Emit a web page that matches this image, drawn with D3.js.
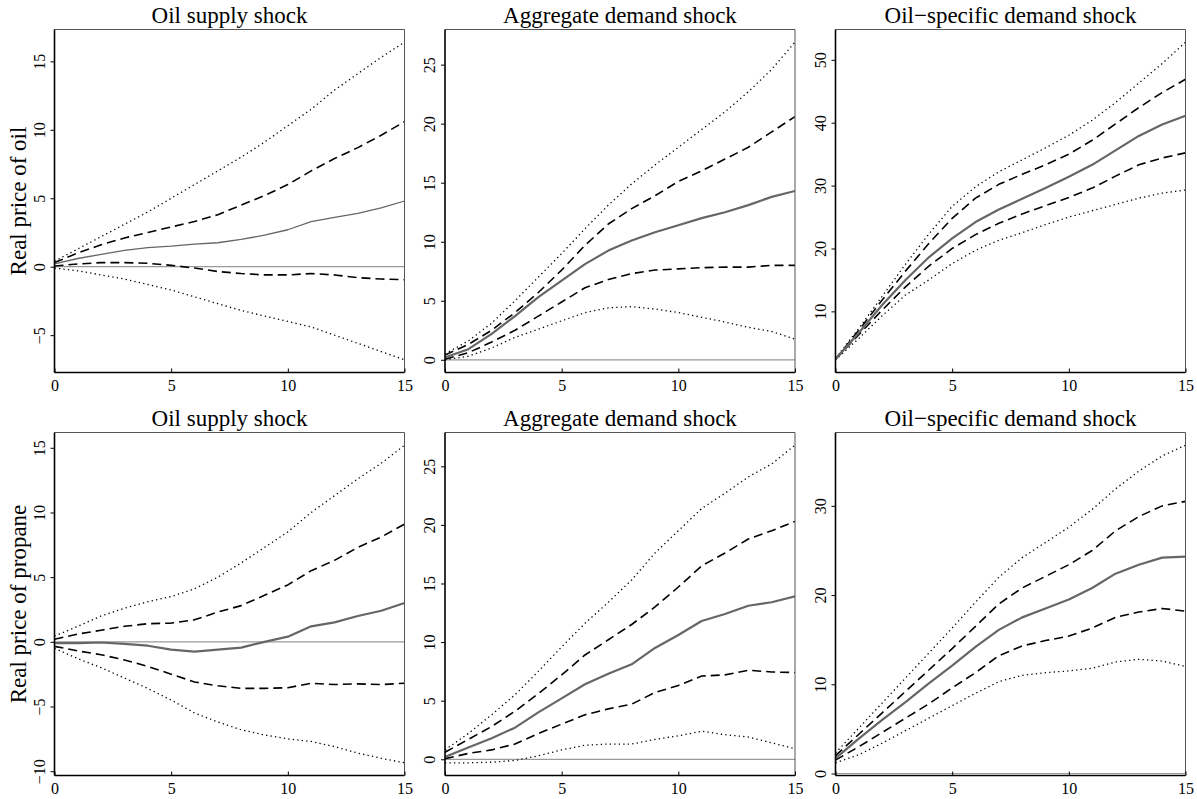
<!DOCTYPE html>
<html>
<head>
<meta charset="utf-8">
<script src="https://cdn.jsdelivr.net/npm/d3@7"></script>
<style>
  html, body { margin: 0; padding: 0; background: #fff; }
  svg { display: block; }
  text { font-family: "Liberation Serif", "Times New Roman", Times, serif; fill: #000; }
</style>
</head>
<body>
<svg id="chart" width="1197" height="799"></svg>
<script>
// Impulse response horizons (months after the shock)
const horizons = [0, 1, 2, 3, 4, 5, 6, 7, 8, 9, 10, 11, 12, 13, 14, 15];
const xTicks = [0, 5, 10, 15];

const shockTitles = ["Oil supply shock", "Aggregate demand shock", "Oil\u2212specific demand shock"];
const variableLabels = ["Real price of oil", "Real price of propane"];

// Real price of oil — oil supply shock
const oilSupply_upperDot  = [0.4, 1.3, 2.2, 3.1, 4.0, 5.0, 6.0, 7.0, 8.0, 9.1, 10.3, 11.5, 12.9, 14.1, 15.3, 16.4];
const oilSupply_upperDash = [0.3, 1.0, 1.6, 2.1, 2.5, 2.9, 3.3, 3.8, 4.5, 5.2, 6.0, 7.0, 7.9, 8.7, 9.6, 10.6];
const oilSupply_median    = [0.2, 0.6, 0.9, 1.2, 1.4, 1.5, 1.65, 1.75, 2.0, 2.3, 2.7, 3.3, 3.6, 3.9, 4.3, 4.8];
const oilSupply_lowerDash = [0.05, 0.2, 0.3, 0.3, 0.25, 0.1, -0.1, -0.35, -0.5, -0.6, -0.6, -0.5, -0.6, -0.8, -0.9, -0.95];
const oilSupply_lowerDot  = [-0.1, -0.3, -0.6, -0.9, -1.3, -1.7, -2.2, -2.7, -3.2, -3.6, -4.0, -4.4, -5.0, -5.6, -6.2, -6.8];

// Real price of oil — aggregate demand shock
const oilAggregate_upperDot  = [0.5, 1.6, 3.1, 5.0, 7.0, 9.0, 11.1, 13.1, 14.9, 16.5, 18.0, 19.5, 21.0, 22.7, 24.6, 26.9];
const oilAggregate_upperDash = [0.4, 1.3, 2.5, 4.0, 5.7, 7.6, 9.7, 11.5, 12.8, 13.9, 15.1, 16.0, 17.0, 18.0, 19.3, 20.6];
const oilAggregate_median    = [0.2, 0.9, 2.2, 3.7, 5.3, 6.7, 8.1, 9.25, 10.1, 10.8, 11.4, 12.0, 12.5, 13.1, 13.8, 14.3];
const oilAggregate_lowerDash = [0.05, 0.6, 1.5, 2.5, 3.7, 4.9, 6.1, 6.8, 7.3, 7.6, 7.7, 7.8, 7.85, 7.85, 8.0, 8.0];
const oilAggregate_lowerDot  = [0.0, 0.3, 1.0, 1.9, 2.6, 3.3, 4.0, 4.4, 4.5, 4.3, 4.0, 3.6, 3.2, 2.75, 2.4, 1.75];

// Real price of oil — oil-specific demand shock
const oilSpecific_upperDot  = [2.5, 7.3, 12.4, 17.5, 22.3, 26.7, 29.8, 32.2, 34.1, 36.0, 38.0, 40.4, 43.2, 46.3, 49.4, 52.8];
const oilSpecific_upperDash = [2.4, 7.0, 11.8, 16.4, 20.8, 24.8, 28.0, 30.2, 31.8, 33.3, 35.0, 37.2, 39.8, 42.4, 44.8, 46.9];
const oilSpecific_median    = [2.4, 6.6, 11.0, 15.0, 18.6, 21.6, 24.2, 26.2, 27.9, 29.6, 31.4, 33.3, 35.6, 37.9, 39.7, 41.1];
const oilSpecific_lowerDash = [2.4, 6.3, 10.2, 13.9, 17.2, 20.0, 22.2, 24.0, 25.5, 26.8, 28.1, 29.6, 31.5, 33.3, 34.4, 35.2];
const oilSpecific_lowerDot  = [2.3, 5.7, 9.3, 12.6, 15.0, 17.6, 19.7, 21.3, 22.5, 23.8, 25.0, 26.0, 27.0, 28.0, 28.8, 29.3];

// Real price of propane — oil supply shock
const propSupply_upperDot  = [0.45, 1.2, 2.0, 2.6, 3.1, 3.5, 4.1, 5.0, 6.1, 7.3, 8.5, 10.0, 11.3, 12.6, 13.8, 15.2];
const propSupply_upperDash = [0.2, 0.6, 0.9, 1.2, 1.4, 1.45, 1.7, 2.3, 2.8, 3.6, 4.4, 5.5, 6.3, 7.3, 8.1, 9.1];
const propSupply_median    = [-0.1, -0.1, -0.05, -0.15, -0.3, -0.6, -0.75, -0.6, -0.45, 0.0, 0.4, 1.2, 1.5, 2.0, 2.4, 3.0];
const propSupply_lowerDash = [-0.35, -0.7, -1.0, -1.4, -1.9, -2.5, -3.1, -3.4, -3.6, -3.6, -3.55, -3.2, -3.3, -3.25, -3.3, -3.2];
const propSupply_lowerDot  = [-0.5, -1.3, -2.0, -2.8, -3.6, -4.5, -5.5, -6.2, -6.8, -7.2, -7.5, -7.7, -8.1, -8.6, -9.0, -9.35];

// Real price of propane — aggregate demand shock
const propAggregate_upperDot  = [0.8, 2.2, 3.8, 5.5, 7.5, 9.6, 11.6, 13.4, 15.3, 17.6, 19.5, 21.4, 22.7, 24.1, 25.2, 26.8];
const propAggregate_upperDash = [0.6, 1.7, 2.8, 4.1, 5.6, 7.2, 8.9, 10.2, 11.5, 13.0, 14.7, 16.5, 17.6, 18.8, 19.5, 20.3];
const propAggregate_median    = [0.2, 1.0, 1.8, 2.7, 4.0, 5.2, 6.4, 7.3, 8.1, 9.5, 10.6, 11.8, 12.4, 13.1, 13.4, 13.9];
const propAggregate_lowerDash = [0.05, 0.5, 0.8, 1.3, 2.2, 3.0, 3.8, 4.3, 4.7, 5.7, 6.3, 7.1, 7.2, 7.6, 7.45, 7.4];
const propAggregate_lowerDot  = [-0.3, -0.3, -0.25, -0.1, 0.3, 0.8, 1.2, 1.3, 1.3, 1.7, 2.0, 2.4, 2.1, 1.9, 1.4, 0.9];

// Real price of propane — oil-specific demand shock
const propSpecific_upperDot  = [2.3, 5.1, 7.9, 10.7, 13.5, 16.3, 19.2, 22.0, 24.2, 25.9, 27.6, 29.6, 31.9, 33.9, 35.6, 36.8];
const propSpecific_upperDash = [2.0, 4.4, 6.8, 9.2, 11.6, 14.0, 16.5, 19.0, 20.8, 22.1, 23.4, 25.0, 27.2, 28.8, 30.0, 30.5];
const propSpecific_median    = [1.7, 3.9, 6.0, 8.0, 10.1, 12.1, 14.2, 16.1, 17.5, 18.5, 19.5, 20.8, 22.4, 23.4, 24.2, 24.3];
const propSpecific_lowerDash = [1.5, 3.0, 4.6, 6.2, 7.8, 9.6, 11.3, 13.2, 14.3, 14.9, 15.4, 16.3, 17.5, 18.1, 18.5, 18.2];
const propSpecific_lowerDot  = [1.2, 2.1, 3.4, 4.8, 6.2, 7.6, 9.0, 10.3, 11.0, 11.3, 11.5, 11.8, 12.5, 12.8, 12.6, 12.0];

// y-axis tick values, one list per panel (row-major)
const yTicksOilSupply      = [-5, 0, 5, 10, 15];
const yTicksOilAggregate   = [0, 5, 10, 15, 20, 25];
const yTicksOilSpecific    = [10, 20, 30, 40, 50];
const yTicksPropSupply     = [-10, -5, 0, 5, 10, 15];
const yTicksPropAggregate  = [0, 5, 10, 15, 20, 25];
const yTicksPropSpecific   = [0, 10, 20, 30];

const panels = [
  { row: 0, col: 0, ticks: yTicksOilSupply, medianWidth: 1.3,
    bands: [oilSupply_lowerDot, oilSupply_lowerDash, oilSupply_median, oilSupply_upperDash, oilSupply_upperDot] },
  { row: 0, col: 1, ticks: yTicksOilAggregate, medianWidth: 2.2,
    bands: [oilAggregate_lowerDot, oilAggregate_lowerDash, oilAggregate_median, oilAggregate_upperDash, oilAggregate_upperDot] },
  { row: 0, col: 2, ticks: yTicksOilSpecific, medianWidth: 2.2,
    bands: [oilSpecific_lowerDot, oilSpecific_lowerDash, oilSpecific_median, oilSpecific_upperDash, oilSpecific_upperDot] },
  { row: 1, col: 0, ticks: yTicksPropSupply, medianWidth: 2.2,
    bands: [propSupply_lowerDot, propSupply_lowerDash, propSupply_median, propSupply_upperDash, propSupply_upperDot] },
  { row: 1, col: 1, ticks: yTicksPropAggregate, medianWidth: 2.2,
    bands: [propAggregate_lowerDot, propAggregate_lowerDash, propAggregate_median, propAggregate_upperDash, propAggregate_upperDot] },
  { row: 1, col: 2, ticks: yTicksPropSpecific, medianWidth: 2.2,
    bands: [propSpecific_lowerDot, propSpecific_lowerDash, propSpecific_median, propSpecific_upperDash, propSpecific_upperDot] }
];

// Layout of the 2 x 3 grid
const colX = [54.5, 445, 835.5];
const rowY = [29.5, 432.5];
const plotW = 350;
const plotH = 343;
const tickFont = '"Liberation Serif", "Times New Roman", serif';

const svg = d3.select("#chart");
svg.append("rect").attr("width", 1197).attr("height", 799).attr("fill", "#fff");
const defs = svg.append("defs");

// band styles: dotted outer bands, dashed inner bands, grey median
const bandStyle = [
  { stroke: "#000", width: 1.3, dash: "1.3,3.2" },
  { stroke: "#000", width: 1.6, dash: "9,5" },
  { stroke: "#666", width: null, dash: null },
  { stroke: "#000", width: 1.6, dash: "9,5" },
  { stroke: "#000", width: 1.3, dash: "1.3,3.2" }
];

panels.forEach((p, idx) => {
  const x0 = colX[p.col], y0 = rowY[p.row];
  const g = svg.append("g").attr("transform", `translate(${x0},${y0})`);

  const x = d3.scaleLinear().domain([horizons[0], horizons[horizons.length - 1]]).range([0, plotW]);
  const all = p.bands.flat();
  const [lo, hi] = d3.extent(all);
  const pad = (hi - lo) * 0.04;
  const y = d3.scaleLinear().domain([lo - pad, hi + pad]).range([plotH, 0]);

  const clipId = "clip" + idx;
  defs.append("clipPath").attr("id", clipId)
    .append("rect").attr("x", 0).attr("y", 0).attr("width", plotW).attr("height", plotH);

  const plot = g.append("g").attr("clip-path", `url(#${clipId})`);

  // zero reference line
  plot.append("line")
    .attr("x1", 0).attr("x2", plotW)
    .attr("y1", y(0)).attr("y2", y(0))
    .attr("stroke", "#9a9a9a").attr("stroke-width", 1.2);

  const line = d3.line().x((d, i) => x(horizons[i])).y(d => y(d));

  [0, 4, 1, 3, 2].forEach(b => {
    const st = bandStyle[b];
    const path = plot.append("path")
      .datum(p.bands[b])
      .attr("d", line)
      .attr("fill", "none")
      .attr("stroke", st.stroke)
      .attr("stroke-width", st.width === null ? p.medianWidth : st.width)
      .attr("stroke-linejoin", "round");
    if (st.dash) path.attr("stroke-dasharray", st.dash);
  });

  // frame: grey top/right, black axes on left/bottom
  g.append("line").attr("x1", 0).attr("x2", plotW).attr("y1", 0).attr("y2", 0)
    .attr("stroke", "#555").attr("stroke-width", 1);
  g.append("line").attr("x1", plotW).attr("x2", plotW).attr("y1", 0).attr("y2", plotH)
    .attr("stroke", "#555").attr("stroke-width", 1);

  // y axis
  const yAxis = d3.axisLeft(y).tickValues(p.ticks).tickSize(4).tickSizeOuter(0)
    .tickFormat(d => (d < 0 ? "\u2212" + Math.abs(d) : String(d)));
  const ya = g.append("g").call(yAxis);
  ya.attr("font-size", null).attr("font-family", null);
  ya.select(".domain").attr("d", `M0,0V${plotH}`).attr("stroke", "#000").attr("stroke-width", 1.6);
  ya.selectAll(".tick line").attr("stroke", "#000").attr("stroke-width", 1);
  ya.selectAll(".tick text")
    .attr("x", null).attr("dy", null)
    .attr("transform", "translate(-10,0) rotate(-90)")
    .attr("text-anchor", "middle")
    .attr("fill", "#000")
    .style("font-family", tickFont)
    .style("font-size", "16px");

  // x axis (ticks point inward)
  const xAxis = d3.axisBottom(x).tickValues(xTicks).tickSize(-4).tickSizeOuter(0).tickFormat(d3.format("d"));
  const xa = g.append("g").attr("transform", `translate(0,${plotH})`).call(xAxis);
  xa.attr("font-size", null).attr("font-family", null);
  xa.select(".domain").attr("d", `M0,0H${plotW}`).attr("stroke", "#000").attr("stroke-width", 1.6);
  xa.selectAll(".tick line").attr("stroke", "#000").attr("stroke-width", 1);
  xa.selectAll(".tick text")
    .attr("y", 18).attr("dy", null)
    .attr("fill", "#000")
    .style("font-family", tickFont)
    .style("font-size", "16px");

  // panel title
  g.append("text")
    .attr("x", plotW / 2).attr("y", -7)
    .attr("text-anchor", "middle")
    .style("font-size", "23px")
    .text(shockTitles[p.col]);

  // row label on the first column
  if (p.col === 0) {
    svg.append("text")
      .attr("transform", `translate(26,${y0 + plotH / 2}) rotate(-90)`)
      .attr("text-anchor", "middle")
      .style("font-size", "23px")
      .text(variableLabels[p.row]);
  }
});
</script>
</body>
</html>
